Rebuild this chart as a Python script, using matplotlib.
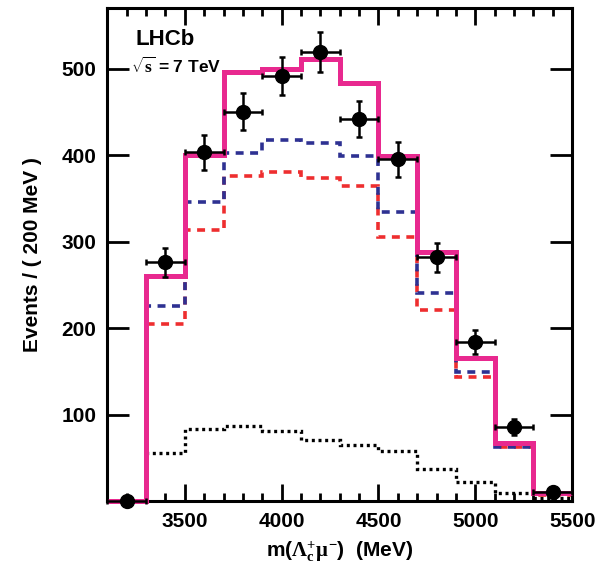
import numpy as np
import matplotlib.pyplot as plt

plt.rcParams['font.family'] = ['Liberation Sans', 'DejaVu Sans']
plt.rcParams['font.weight'] = 'bold'
plt.rcParams['mathtext.fontset'] = 'custom'
plt.rcParams['mathtext.rm'] = 'Liberation Serif'
plt.rcParams['mathtext.it'] = 'Liberation Serif'

# bin edges (MeV), 200 MeV bins
edges = [3100, 3300, 3500, 3700, 3900, 4100, 4300, 4500, 4700, 4900, 5100, 5300, 5500]

# data points (bin centres)
data_x = [3200, 3400, 3600, 3800, 4000, 4200, 4400, 4600, 4800, 5000, 5200, 5400]
data_y = [0, 276, 403, 450, 491, 519, 442, 395, 282, 184, 86, 11]

# fit components per bin
total = [0, 260, 400, 496, 500, 511, 483, 399, 288, 165, 67, 9]
comp_blue = [0, 225, 346, 402, 417, 414, 399, 334, 240, 149, 63, 8]
comp_red = [0, 205, 313, 376, 380, 374, 364, 305, 221, 143, 62, 7]
background = [0, 55, 83, 87, 81, 71, 65, 58, 37, 22, 9, 3]

fig = plt.figure(figsize=(5.96, 5.70), dpi=100)
ax = fig.add_axes([0.18, 0.121, 0.78, 0.865])

ax.stairs(background, edges, baseline=None, color='black', lw=2.4,
          linestyle=(0, (0.9, 1.1)))
ax.stairs(comp_red, edges, baseline=None, color='#ee2e2f', lw=2.6,
          linestyle=(0, (2.2, 1.8)))
ax.stairs(comp_blue, edges, baseline=None, color='#2e3192', lw=2.6,
          linestyle=(0, (2.2, 1.8)))
ax.stairs(total, edges, baseline=None, color='#e8298f', lw=3.6,
          clip_on=False, zorder=3)

yerr = np.sqrt(np.array(data_y, dtype=float))
ax.errorbar(data_x, data_y, xerr=100, yerr=yerr, fmt='o', color='black',
            ms=10, elinewidth=1.8, capsize=2.5, capthick=1.8, clip_on=False,
            zorder=5)

ax.set_xlim(3100, 5500)
ax.set_ylim(0, 570)
ax.set_xticks([3500, 4000, 4500, 5000, 5500])
ax.set_xticks(np.arange(3100, 5501, 100), minor=True)
ax.set_yticks([100, 200, 300, 400, 500])

ax.tick_params(which='both', direction='in', top=True, right=True,
               labelsize=15, width=2)
ax.tick_params(which='major', axis='x', length=12, pad=8)
ax.tick_params(which='major', axis='y', length=16, pad=8)
ax.tick_params(which='minor', length=6)
for sp in ax.spines.values():
    sp.set_linewidth(2.2)

ax.set_ylabel('Events / ( 200 MeV )', fontsize=15, fontweight='bold', labelpad=14)
ax.set_xlabel(r'm($\Lambda^{+}_{c}\mu^{-}$)  (MeV)', fontsize=15,
              fontweight='bold', labelpad=6)

ax.text(0.06, 0.925, 'LHCb', transform=ax.transAxes, fontsize=16,
        fontweight='bold')
ax.text(0.052, 0.868, r'$\sqrt{s}$ = 7 TeV', transform=ax.transAxes,
        fontsize=12.5, fontweight='bold')

fig.savefig('out.png', dpi=100)
